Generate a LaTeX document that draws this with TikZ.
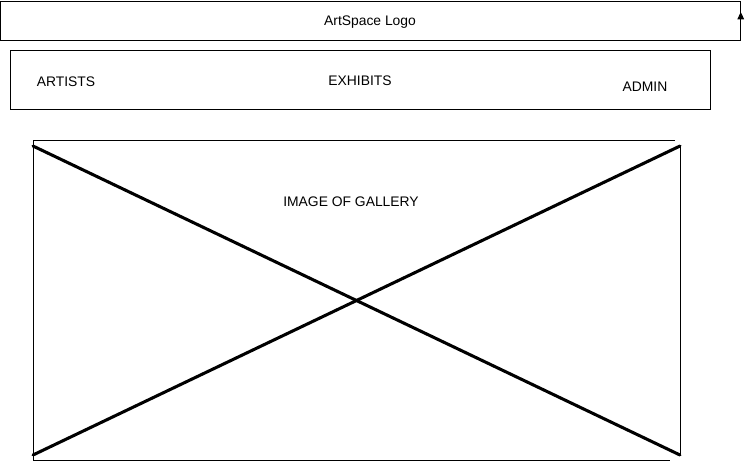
\documentclass[tikz,border=0pt]{standalone}
\usepackage{fontspec}
\setmainfont{Liberation Sans}
\usetikzlibrary{arrows.meta}
\tikzset{
  px/.style={x=0.75pt,y=-0.75pt},
  frame/.style={draw=black,line width=0.75pt,inner sep=0pt,outer sep=0pt},
  label/.style={font=\fontsize{10.4pt}{12pt}\selectfont,inner sep=0pt},
  thin/.style={draw=black,line width=0.75pt},
  cross/.style={draw=black,line width=2.3pt,line cap=round}
}
\begin{document}
\begin{tikzpicture}[px]
\useasboundingbox (0,0) rectangle (749,462);
% header bar with the logo
\node[frame,minimum width=740pt*0.75,minimum height=39pt*0.75] (logo) at (370.75,20.5) {};
\node[label] (logotext) at (370,22.5) {ArtSpace Logo};
\coordinate (arrowtip) at (740.75,12);
\draw[thin,-{Triangle[length=5.5pt,width=5pt]}] (logo.south east) -- (arrowtip);
% navigation bar
\node[frame,minimum width=700pt*0.75,minimum height=59pt*0.75] (nav) at (360,79.5) {};
\node[label] (artists) at (66,82) {ARTISTS};
\node[label] (exhibits) at (360,81) {EXHIBITS};
\node[label] (admin) at (645,87) {ADMIN};
% image placeholder
\coordinate (tl) at (33,140);
\coordinate (tr) at (675,140);
\coordinate (bl) at (33,460);
\coordinate (br) at (670,460);
\coordinate (rt) at (680,146);
\coordinate (rb) at (680,455);
\coordinate (xtl) at (33,146);
\coordinate (xbl) at (33,455);
\draw[thin] (tr) -- (tl) -- (bl) -- (br);
\draw[thin] (rt) -- (rb);
\draw[cross] (xtl) -- (rb);
\draw[cross] (xbl) -- (rt);
\node[label] (gallery) at (351,202) {IMAGE OF GALLERY};
\end{tikzpicture}
\end{document}
